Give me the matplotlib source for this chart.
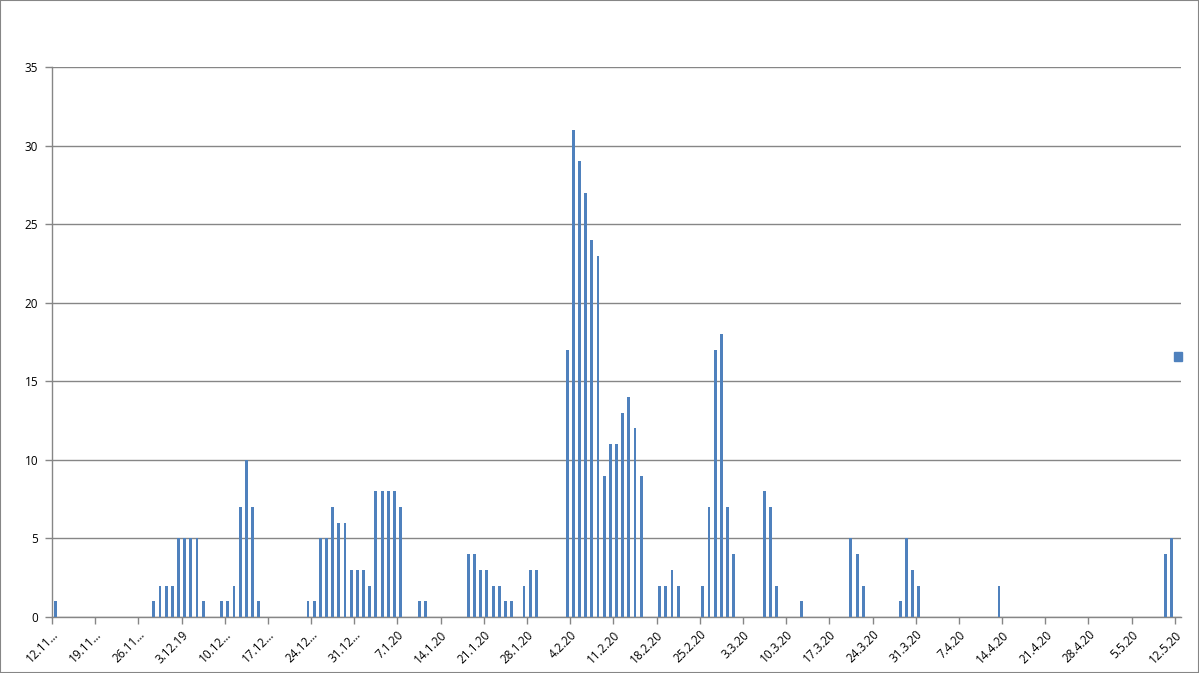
import numpy as np
import pandas as pd
import matplotlib
matplotlib.use("Agg")
from matplotlib import pyplot as plt
from matplotlib.patches import Rectangle

# daily counts, days without a bar are 0
start_date = "2019-11-12"
end_date = "2020-05-12"
event_dates = ["2019-11-12",
               "2019-11-28", "2019-11-29", "2019-11-30", "2019-12-01", "2019-12-02",
               "2019-12-03", "2019-12-04", "2019-12-05", "2019-12-06",
               "2019-12-09", "2019-12-10", "2019-12-11", "2019-12-12", "2019-12-13",
               "2019-12-14", "2019-12-15",
               "2019-12-23", "2019-12-24", "2019-12-25", "2019-12-26", "2019-12-27",
               "2019-12-28", "2019-12-29", "2019-12-30", "2019-12-31", "2020-01-01",
               "2020-01-02", "2020-01-03", "2020-01-04", "2020-01-05", "2020-01-06",
               "2020-01-07", "2020-01-10", "2020-01-11",
               "2020-01-18", "2020-01-19", "2020-01-20", "2020-01-21", "2020-01-22",
               "2020-01-23", "2020-01-24", "2020-01-25", "2020-01-27", "2020-01-28",
               "2020-01-29",
               "2020-02-03", "2020-02-04", "2020-02-05", "2020-02-06", "2020-02-07",
               "2020-02-08", "2020-02-09", "2020-02-10", "2020-02-11", "2020-02-12",
               "2020-02-13", "2020-02-14", "2020-02-15",
               "2020-02-18", "2020-02-19", "2020-02-20", "2020-02-21",
               "2020-02-25", "2020-02-26", "2020-02-27", "2020-02-28", "2020-02-29",
               "2020-03-01", "2020-03-06", "2020-03-07", "2020-03-08", "2020-03-12",
               "2020-03-20", "2020-03-21", "2020-03-22",
               "2020-03-28", "2020-03-29", "2020-03-30", "2020-03-31",
               "2020-04-13", "2020-05-10", "2020-05-11"]
event_counts = [1,
                1, 2, 2, 2, 5,
                5, 5, 5, 1,
                1, 1, 2, 7, 10,
                7, 1,
                1, 1, 5, 5, 7,
                6, 6, 3, 3, 3,
                2, 8, 8, 8, 8,
                7, 1, 1,
                4, 4, 3, 3, 2,
                2, 1, 1, 2, 3,
                3,
                17, 31, 29, 27, 24,
                23, 9, 11, 11, 13,
                14, 12, 9,
                2, 2, 3, 2,
                2, 7, 17, 18, 7,
                4, 8, 7, 2, 1,
                5, 4, 2,
                1, 5, 3, 2,
                2, 4, 5]

tick_labels = ["12.11…", "19.11…", "26.11…", "3.12.19", "10.12…", "17.12…",
               "24.12…", "31.12…", "7.1.20", "14.1.20", "21.1.20", "28.1.20",
               "4.2.20", "11.2.20", "18.2.20", "25.2.20", "3.3.20", "10.3.20",
               "17.3.20", "24.3.20", "31.3.20", "7.4.20", "14.4.20", "21.4.20",
               "28.4.20", "5.5.20", "12.5.20"]
y_ticks = [0, 5, 10, 15, 20, 25, 30, 35]

days = pd.date_range(start_date, end_date, freq="D")
series = pd.Series(event_counts, index=pd.to_datetime(event_dates))
series = series.reindex(days, fill_value=0)
x = np.arange(len(days))

grid_col = "#868686"
bar_col = "#4F81BD"
plt.rcParams['font.family'] = ['Open Sans', 'DejaVu Sans']

fig = plt.figure(figsize=(11.99, 6.73), dpi=100)
ax = fig.add_axes([52 / 1199, 56 / 673, 1129 / 1199, 550 / 673])

ax.bar(x, series.values, width=0.47, color=bar_col, zorder=3)

ax.set_xlim(-0.5, len(days) - 0.5)
ax.set_ylim(0, 35)
ax.set_yticks(y_ticks)
ax.set_yticklabels([str(v) for v in y_ticks], fontsize=8.5)
ax.yaxis.grid(True, color=grid_col, linewidth=1)
ax.set_axisbelow(True)

tick_pos = np.arange(0, len(days), 7) - 0.5
ax.set_xticks(tick_pos)
ax.set_xticklabels(tick_labels, rotation=45, ha="right", va="top",
                   rotation_mode="anchor", fontsize=8.5)

for side in ["top", "right"]:
    ax.spines[side].set_visible(False)
for side in ["left", "bottom"]:
    ax.spines[side].set_color(grid_col)
    ax.spines[side].set_linewidth(1)
ax.tick_params(axis="both", color=grid_col, length=5, width=1)
ax.tick_params(axis="y", pad=5)
ax.tick_params(axis="x", pad=3)

# legend entry without text
handle = Rectangle((0, 0), 1, 1, color=bar_col)
fig.legend([handle], [""], loc="center left", bbox_to_anchor=(1167 / 1199, 1 - 358 / 673),
           frameon=False, handlelength=0.6, handleheight=0.6, borderpad=0, handletextpad=0)

# outer chart border
fig.patches.append(Rectangle((0, 0), 1, 1, transform=fig.transFigure, fill=False,
                             edgecolor=grid_col, linewidth=1.5))

fig.savefig("out.png", dpi=100)
